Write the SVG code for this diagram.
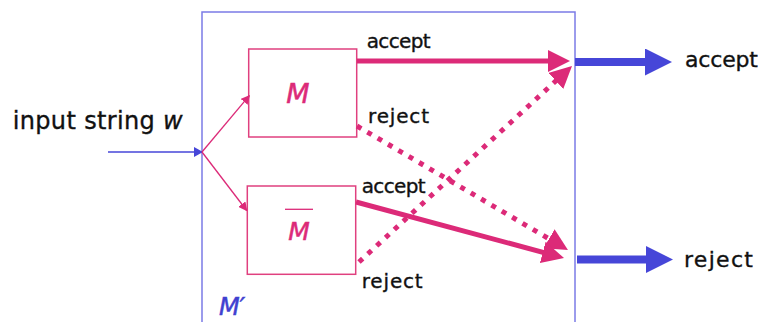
<svg xmlns="http://www.w3.org/2000/svg" width="762" height="322" viewBox="0 0 762 322">
<style>
  .lbl{font-family:"DejaVu Sans","Liberation Sans",sans-serif;fill:#111;stroke:#111;stroke-width:0.35;}
  .mach{fill:#fff;stroke:#e0407f;stroke-width:1.5;}
  .thick{fill:none;stroke:#dc2a78;stroke-width:5;}
  .dot{fill:none;stroke:#dc2a78;stroke-width:5;stroke-dasharray:5 7;}
  .thin{fill:none;stroke:#dc2a78;stroke-width:1.3;}
  .blue{fill:none;stroke:#4646d8;stroke-width:8;}
</style>
<defs>
  <marker id="ph" viewBox="0 0 22 22" refX="8" refY="11" markerWidth="22" markerHeight="22" markerUnits="userSpaceOnUse" orient="auto">
    <path d="M0,0 L22,11 L0,22 z" fill="#dc2a78"/>
  </marker>
  <marker id="bh" viewBox="0 0 27 27" refX="5" refY="13.5" markerWidth="27" markerHeight="27" markerUnits="userSpaceOnUse" orient="auto">
    <path d="M0,0 L27,13.5 L0,27 z" fill="#4646d8"/>
  </marker>
  <marker id="sp" viewBox="0 0 9 9" refX="8" refY="4.5" markerWidth="9" markerHeight="9" markerUnits="userSpaceOnUse" orient="auto">
    <path d="M0,0 L9,4.5 L0,9 z" fill="#dc2a78"/>
  </marker>
  <marker id="sb" viewBox="0 0 9 10" refX="8" refY="5" markerWidth="9" markerHeight="10" markerUnits="userSpaceOnUse" orient="auto">
    <path d="M0,0 L9,5 L0,10 z" fill="#4646d8"/>
  </marker>
</defs>

<g id="Mprime">
  <rect x="202" y="12" width="373" height="330" fill="none" stroke="#7b7be6" stroke-width="1.5"/>
  <text x="219" y="315" font-family="DejaVu Sans, sans-serif" font-style="italic" font-size="24" fill="#4040d0" stroke="#4040d0" stroke-width="0.5">M′</text>
</g>

<g id="M">
  <rect class="mach" x="248.7" y="49" width="108" height="88"/>
  <text x="298" y="103" text-anchor="middle" font-family="DejaVu Sans, sans-serif" font-style="italic" font-size="27" fill="#dc2a78" stroke="#dc2a78" stroke-width="0.5">M</text>
</g>

<g id="Mbar">
  <rect class="mach" x="247.3" y="186" width="108.4" height="88.3"/>
  <text x="299" y="239.5" text-anchor="middle" font-family="DejaVu Sans, sans-serif" font-style="italic" font-size="25" fill="#dc2a78" stroke="#dc2a78" stroke-width="0.5">M</text>
  <line x1="285" y1="209.3" x2="313" y2="209.3" stroke="#dc2a78" stroke-width="1.3"/>
</g>

<g id="connectors">
  <line x1="108" y1="152" x2="202" y2="152" stroke="#4646d8" stroke-width="1.3" marker-end="url(#sb)"/>
  <line class="thin" x1="202" y1="152" x2="249.3" y2="95.7" marker-end="url(#sp)"/>
  <line class="thin" x1="202" y1="152" x2="246.7" y2="210.5" marker-end="url(#sp)"/>
  <line class="thick" x1="357" y1="61" x2="556" y2="61" marker-end="url(#ph)"/>
  <line class="dot" x1="357" y1="126" x2="555.9" y2="242.9" marker-end="url(#ph)"/>
  <line class="dot" x1="359" y1="262" x2="561.7" y2="75.5" marker-end="url(#ph)"/>
  <line class="thick" x1="356" y1="202" x2="550.5" y2="254.4" marker-end="url(#ph)"/>
  <line class="blue" x1="575" y1="62" x2="650" y2="62" marker-end="url(#bh)"/>
  <line class="blue" x1="577" y1="259.5" x2="651" y2="259.5" marker-end="url(#bh)"/>
</g>

<g id="labels">
  <text class="lbl" x="12.7" y="129.3" font-size="24" textLength="170" lengthAdjust="spacing">input string <tspan font-style="italic">w</tspan></text>
  <text class="lbl" x="366.7" y="48.3" font-size="20" textLength="64" lengthAdjust="spacing">accept</text>
  <text class="lbl" x="368" y="123" font-size="20" textLength="61" lengthAdjust="spacing">reject</text>
  <text class="lbl" x="361.7" y="193.3" font-size="20" textLength="64" lengthAdjust="spacing">accept</text>
  <text class="lbl" x="361.7" y="288.3" font-size="20" textLength="61" lengthAdjust="spacing">reject</text>
  <text class="lbl" x="685" y="66.7" font-size="22" textLength="73" lengthAdjust="spacing">accept</text>
  <text class="lbl" x="684" y="266.7" font-size="22" textLength="69" lengthAdjust="spacing">reject</text>
</g>
</svg>
